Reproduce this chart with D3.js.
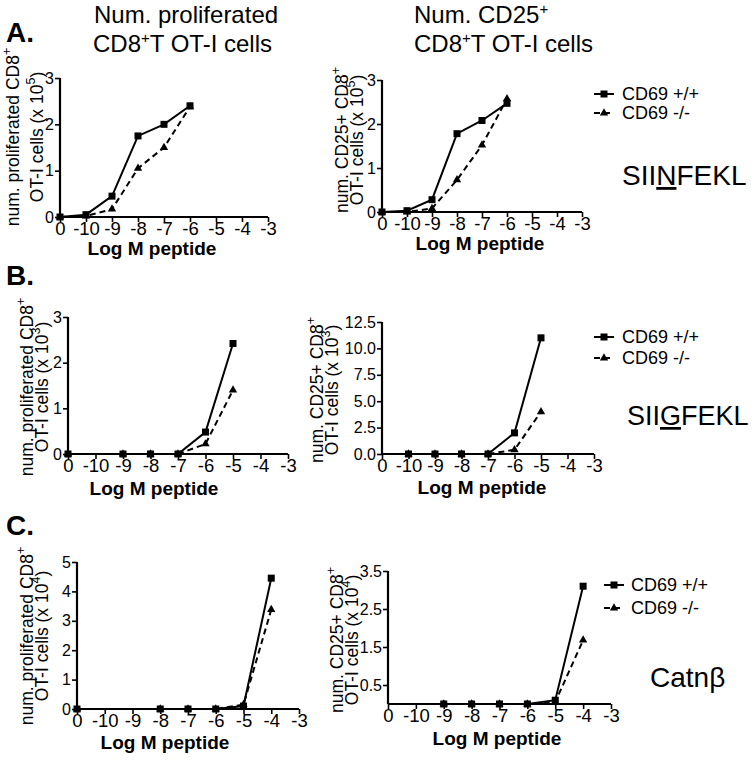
<!DOCTYPE html>
<html>
<head>
<meta charset="utf-8">
<script src="https://cdn.jsdelivr.net/npm/d3@7"></script>
<style>
  body { margin: 0; background: #fff; }
  svg { display: block; font-family: "Liberation Sans", Arial, sans-serif; }
</style>
</head>
<body>
<svg id="chart" width="755" height="761"></svg>
<script>
// ---------------- DATA ----------------
const xTickLabels = ["0", "-10", "-9", "-8", "-7", "-6", "-5", "-4", "-3"];
const seriesNames = ["CD69 +/+", "CD69 -/-"];

// Panel A (SIINFEKL)
const a1Doses = ["0", "-10", "-9", "-8", "-7", "-6"];
const a1WT = [0, 0.05, 0.45, 1.75, 2.0, 2.4];
const a1KO = [0, 0.02, 0.17, 1.05, 1.5, 2.38];
const a1YTicks = [0, 1, 2, 3];

const a2Doses = ["0", "-10", "-9", "-8", "-7", "-6"];
const a2WT = [0, 0.03, 0.28, 1.78, 2.08, 2.47];
const a2KO = [0, 0, 0.08, 0.73, 1.52, 2.57];
const a2YTicks = [0, 1, 2, 3];

// Panel B (SIIGFEKL)
const b1Doses = ["0", "-9", "-8", "-7", "-6", "-5"];
const b1WT = [0, 0, 0, 0, 0.48, 2.42];
const b1KO = [0, 0, 0, 0, 0.22, 1.4];
const b1YTicks = [0, 1, 2, 3];

const b2Doses = ["-10", "-9", "-8", "-7", "-6", "-5"];
const b2WT = [0, 0, 0, 0, 2.0, 11.0];
const b2KO = [0, 0, 0, 0, 0.4, 4.0];
const b2YTicks = [0, 2.5, 5, 7.5, 10, 12.5];

// Panel C (Catnβ)
const c1Doses = ["0", "-8", "-7", "-6", "-5", "-4"];
const c1WT = [0, 0, 0, 0, 0.1, 4.45];
const c1KO = [0, 0, 0, 0, 0.15, 3.38];
const c1YTicks = [0, 1, 2, 3, 4, 5];

const c2Doses = ["-9", "-8", "-7", "-6", "-5", "-4"];
const c2WT = [0, 0, 0, 0, 0.1, 3.1];
const c2KO = [0, 0, 0, 0, 0.05, 1.68];
const c2YTicks = [0.5, 1.5, 2.5, 3.5];

// ---------------- LAYOUT ----------------
const svg = d3.select("#chart");

const panels = [
  { doses: a1Doses, wt: a1WT, ko: a1KO, yTicks: a1YTicks, yMax: 3, fmt: d3.format("d"),
    x0: 60, x1: 268, yTop: 78, yBot: 217, yl1: "num. proliferated CD8", yl2: "OT-I cells (x 10", exp: "5",
    lb1: 19, lb2: 43, lc: 137, xlc: 152, xlo: 38 },
  { doses: a2Doses, wt: a2WT, ko: a2KO, yTicks: a2YTicks, yMax: 3, fmt: d3.format("d"),
    x0: 382, x1: 582, yTop: 80, yBot: 212, yl1: "num. CD25+ CD8", yl2: "OT-I cells (x 10", exp: "5",
    lb1: 348, lb2: 363, lc: 140, xlc: 480, xlo: 38 },
  { doses: b1Doses, wt: b1WT, ko: b1KO, yTicks: b1YTicks, yMax: 3, fmt: d3.format("d"),
    x0: 68, x1: 288, yTop: 317, yBot: 454, yl1: "num. proliferated CD8", yl2: "OT-I cells (x 10", exp: "3",
    lb1: 33, lb2: 48, lc: 387, xlc: 154, xlo: 41 },
  { doses: b2Doses, wt: b2WT, ko: b2KO, yTicks: b2YTicks, yMax: 12.5, fmt: d3.format(".1f"),
    x0: 382, x1: 594, yTop: 322, yBot: 454, yl1: "num. CD25+ CD8", yl2: "OT-I cells (x 10", exp: "3",
    lb1: 323, lb2: 338, lc: 390, xlc: 482, xlo: 40 },
  { doses: c1Doses, wt: c1WT, ko: c1KO, yTicks: c1YTicks, yMax: 5, fmt: d3.format("d"),
    x0: 77, x1: 299, yTop: 562, yBot: 709, yl1: "num. proliferated CD8", yl2: "OT-I cells (x 10", exp: "4",
    lb1: 33, lb2: 48, lc: 636, xlc: 165, xlo: 40 },
  { doses: c2Doses, wt: c2WT, ko: c2KO, yTicks: c2YTicks, yMax: 3.5, fmt: d3.format(".1f"),
    x0: 388, x1: 611, yTop: 571, yBot: 704, yl1: "num. CD25+ CD8", yl2: "OT-I cells (x 10", exp: "4",
    lb1: 343, lb2: 358, lc: 640, xlc: 497, xlo: 41 }
];

const legends = [
  { lx0: 594, lx1: 614, tx: 622, y1: 94, y2: 113 },
  { lx0: 594, lx1: 614, tx: 622, y1: 337, y2: 358 },
  { lx0: 604, lx1: 624, tx: 631, y1: 585, y2: 608 }
];

function drawMarker(g, type, cx, cy) {
  if (type === "sq") {
    g.append("rect").attr("x", cx - 3.5).attr("y", cy - 3.5).attr("width", 7).attr("height", 7).attr("fill", "#000");
  } else {
    g.append("path").attr("d", d3.symbol().type(d3.symbolTriangle).size(30)()).attr("transform", `translate(${cx},${cy})`).attr("fill", "#000");
  }
}

panels.forEach(p => {
  const x = d3.scalePoint().domain(xTickLabels).range([p.x0, p.x1]);
  const y = d3.scaleLinear().domain([0, p.yMax]).range([p.yBot, p.yTop]);
  const g = svg.append("g");

  // y axis
  const ya = g.append("g").attr("transform", `translate(${p.x0},0)`)
    .call(d3.axisLeft(y).tickValues(p.yTicks).tickFormat(p.fmt).tickSize(5).tickPadding(1));
  ya.select(".domain").attr("stroke-width", 2.2).attr("d", `M-0,${p.yTop}V${p.yBot}`);
  ya.selectAll(".tick line").attr("stroke-width", 1.6);
  ya.selectAll("text").attr("font-size", 16).attr("font-family", "Liberation Sans, Arial, sans-serif");

  // x axis
  const xa = g.append("g").attr("transform", `translate(0,${p.yBot})`)
    .call(d3.axisBottom(x).tickSize(5).tickPadding(0));
  xa.select(".domain").attr("stroke-width", 2.2).attr("d", `M${p.x0},0H${p.x1}`);
  xa.selectAll(".tick line").attr("stroke-width", 1.6);
  xa.selectAll("text").attr("font-size", 18.5).attr("font-family", "Liberation Sans, Arial, sans-serif");

  // x axis title
  g.append("text").attr("x", p.xlc).attr("y", p.yBot + p.xlo).attr("text-anchor", "middle")
    .attr("font-size", 19).attr("font-weight", "bold").text("Log M peptide");

  // y axis title (two lines, rotated)
  const t1 = g.append("text").attr("transform", `translate(${p.lb1},${p.lc}) rotate(-90)`)
    .attr("text-anchor", "middle").attr("font-size", 17.5);
  t1.append("tspan").text(p.yl1);
  t1.append("tspan").attr("dy", -8).attr("font-size", 12.5).text("+");
  const t2 = g.append("text").attr("transform", `translate(${p.lb2},${p.lc}) rotate(-90)`)
    .attr("text-anchor", "middle").attr("font-size", 17.5);
  t2.append("tspan").text(p.yl2);
  t2.append("tspan").attr("dy", -8).attr("font-size", 12.5).text(p.exp);
  t2.append("tspan").attr("dy", 8).text(")");

  // series lines
  const line = d3.line().x(d => x(d[0])).y(d => y(d[1]));
  const wtPts = p.doses.map((d, i) => [d, p.wt[i]]);
  const koPts = p.doses.map((d, i) => [d, p.ko[i]]);
  g.append("path").datum(wtPts).attr("d", line).attr("fill", "none").attr("stroke", "#000").attr("stroke-width", 2);
  g.append("path").datum(koPts).attr("d", line).attr("fill", "none").attr("stroke", "#000").attr("stroke-width", 2).attr("stroke-dasharray", "6,4");
  wtPts.forEach(d => drawMarker(g, "sq", x(d[0]), y(d[1])));
  koPts.forEach(d => drawMarker(g, "tri", x(d[0]), y(d[1])));
});

// legends
legends.forEach(L => {
  const g = svg.append("g");
  g.append("line").attr("x1", L.lx0).attr("x2", L.lx1).attr("y1", L.y1).attr("y2", L.y1).attr("stroke", "#000").attr("stroke-width", 2);
  drawMarker(g, "sq", (L.lx0 + L.lx1) / 2, L.y1);
  g.append("line").attr("x1", L.lx0).attr("x2", L.lx1).attr("y1", L.y2).attr("y2", L.y2).attr("stroke", "#000").attr("stroke-width", 2).attr("stroke-dasharray", "6,4");
  drawMarker(g, "tri", (L.lx0 + L.lx1) / 2, L.y2);
  g.append("text").attr("x", L.tx).attr("y", L.y1 + 6).attr("font-size", 18).text(seriesNames[0]);
  g.append("text").attr("x", L.tx).attr("y", L.y2 + 6).attr("font-size", 18).text(seriesNames[1]);
});

// titles
const tL = svg.append("g").attr("font-size", 24);
tL.append("text").attr("x", 94).attr("y", 23).text("Num. proliferated");
const tl2 = tL.append("text").attr("x", 93).attr("y", 52);
tl2.append("tspan").text("CD8");
tl2.append("tspan").attr("dy", -9).attr("font-size", 15).text("+");
tl2.append("tspan").attr("dy", 9).text("T OT-I cells");

const tR = svg.append("g").attr("font-size", 24);
const tr1 = tR.append("text").attr("x", 414).attr("y", 23);
tr1.append("tspan").text("Num. CD25");
tr1.append("tspan").attr("dy", -9).attr("font-size", 15).text("+");
const tr2 = tR.append("text").attr("x", 414).attr("y", 52);
tr2.append("tspan").text("CD8");
tr2.append("tspan").attr("dy", -9).attr("font-size", 15).text("+");
tr2.append("tspan").attr("dy", 9).text("T OT-I cells");

// panel letters
[["A.", 42], ["B.", 285], ["C.", 535]].forEach(([t, yy]) => {
  svg.append("text").attr("x", 6).attr("y", yy).attr("font-size", 28).attr("font-weight", "bold").text(t);
});

// peptide labels
const pep1 = svg.append("text").attr("x", 622).attr("y", 185).attr("font-size", 28);
pep1.append("tspan").text("SII");
pep1.append("tspan").style("text-decoration", "underline").text("N");
pep1.append("tspan").text("FEKL");
const pep2 = svg.append("text").attr("x", 627).attr("y", 425).attr("font-size", 27);
pep2.append("tspan").text("SII");
pep2.append("tspan").style("text-decoration", "underline").text("G");
pep2.append("tspan").text("FEKL");
svg.append("text").attr("x", 650).attr("y", 687).attr("font-size", 28).text("Catnβ");
</script>
</body>
</html>
